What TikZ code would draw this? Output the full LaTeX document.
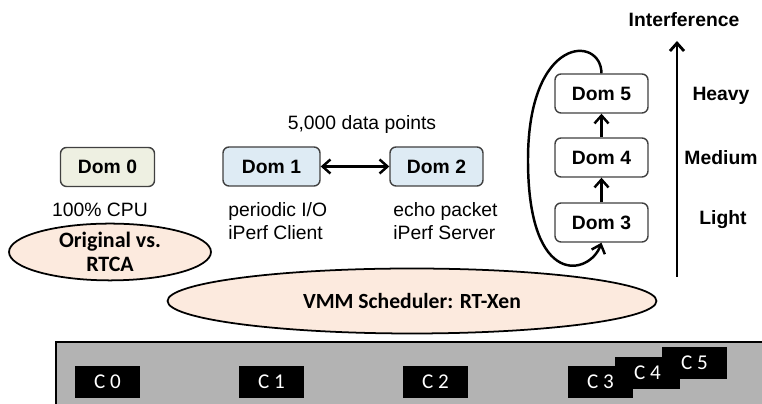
\documentclass[tikz,border=0pt]{standalone}
\usepackage{fontspec}
\setmainfont{Liberation Sans}
\newfontfamily\calibri{Carlito}
\usetikzlibrary{shapes.geometric,arrows.meta}

\definecolor{domgreen}{RGB}{238,240,226}
\definecolor{domblue}{RGB}{222,235,244}
\definecolor{peach}{RGB}{252,234,222}
\definecolor{chassis}{RGB}{179,179,179}

\begin{document}
\begin{tikzpicture}[x=0.02cm, y=-0.02cm,
        dom/.style={draw=black!75, rounded corners=0.12cm, line width=0.8pt, minimum width=1.88cm, minimum height=0.78cm, inner sep=0pt, font=\fontsize{11}{13}\selectfont\bfseries},
        oval/.style={ellipse, draw, fill=peach, line width=1pt, inner sep=0pt, align=center},
        core/.style={fill=black, text=white, minimum width=1.3cm, minimum height=0.64cm, inner sep=0pt, font=\calibri\fontsize{12}{14}\selectfont},
        lbl/.style={font=\fontsize{11}{13}\selectfont, align=left, inner sep=0pt},
        level/.style={font=\fontsize{11}{13}\selectfont\bfseries, inner sep=0pt},
        tip/.style={line width=1.4pt, -{Straight Barb[length=4.5pt,width=8pt]}},
    ]
    \useasboundingbox (0,0) rectangle (762,404);

    % hardware
    \draw[fill=chassis, line width=0.8pt] (56,342) rectangle (800,420);
    \node[core] (c0) at (107.5,382) {C 0};
    \node[core] (c1) at (271.5,382) {C 1};
    \node[core] (c2) at (435.5,382) {C 2};
    \node[core] (c3) at (600.5,382) {C 3};
    \node[core] (c4) at (647.5,373) {C 4};
    \node[core] (c5) at (694.5,363) {C 5};

    % scheduler
    \node[oval, minimum width=9.78cm, minimum height=1.3cm, font=\calibri\fontsize{12.3}{14}\selectfont\bfseries] (vmm) at (412,301) {VMM Scheduler: RT-Xen};

    % domains
    \node[dom, fill=domgreen] (d0) at (107.5,167) {Dom 0};
    \node[dom, fill=domblue, minimum width=1.94cm] (d1) at (271.5,166.5) {Dom 1};
    \node[dom, fill=domblue, minimum width=1.86cm] (d2) at (436.5,166.5) {Dom 2};
    \node[dom, fill=white, minimum width=1.86cm] (d5) at (601.5,93.5) {Dom 5};
    \node[dom, fill=white, minimum width=1.86cm] (d4) at (601.5,157.5) {Dom 4};
    \node[dom, fill=white, minimum width=1.86cm] (d3) at (601.5,222.5) {Dom 3};

    \node[lbl] (cpu) at (100,210) {100\% CPU};
    \node[oval, minimum width=4.04cm, minimum height=1.12cm, font=\calibri\fontsize{12.5}{14}\selectfont\bfseries] (rtca) at (110,252) {Original vs.\\RTCA};

    \node[lbl] (pts) at (362,125) {5,000 data points};
    \node[lbl, anchor=west] (client) at (228,221.5) {periodic I/O\\iPerf Client};
    \node[lbl, anchor=west] (server) at (393,221.5) {echo packet\\iPerf Server};

    \draw[tip, {Straight Barb[length=4.5pt,width=8pt]}-{Straight Barb[length=4.5pt,width=8pt]}] (d1) -- (d2);
    \draw[tip] (d3) -- (d4);
    \draw[tip] (d4) -- (d5);
    \draw[tip] (d5.north) .. controls (601,35) and (528,35) .. (528,160)
        .. controls (528,290) and (590,275) .. (d3.south);

    % interference scale
    \coordinate (lo) at (677,277);
    \coordinate (hi) at (677,41);
    \draw[tip, line width=1.6pt] (lo) -- (hi);
    \node[level] (intf) at (684,20) {Interference};
    \node[level] (heavy) at (721,96) {Heavy};
    \node[level] (medium) at (721,158) {Medium};
    \node[level] (light) at (723,220) {Light};
\end{tikzpicture}
\end{document}
